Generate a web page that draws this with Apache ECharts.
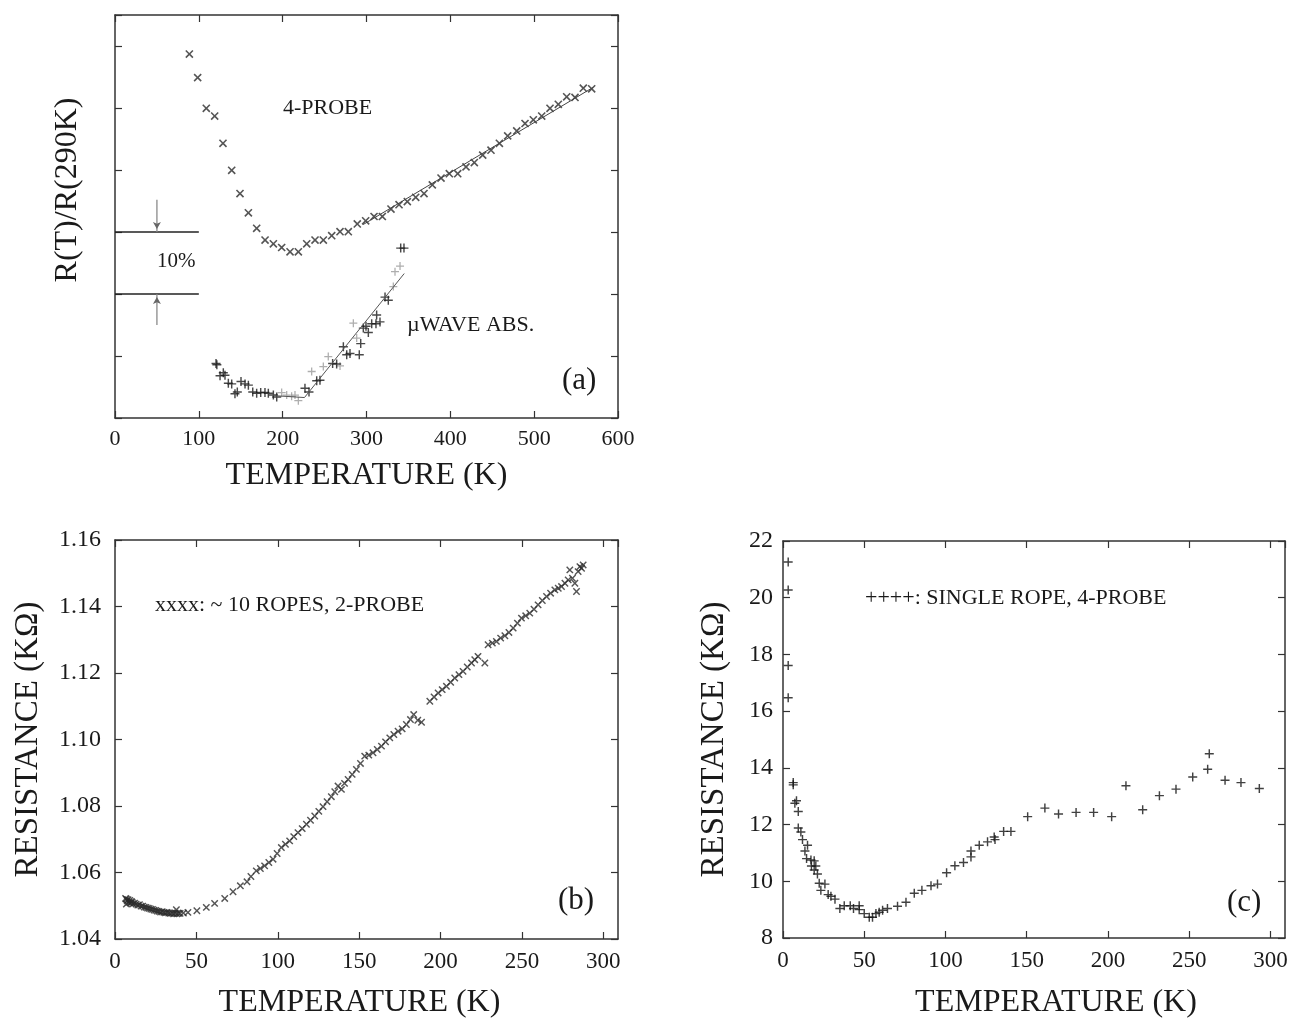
<!DOCTYPE html>
<html><head><meta charset="utf-8">
<script src="https://cdn.jsdelivr.net/npm/echarts@6/dist/echarts.min.js"></script>
<style>html,body{margin:0;padding:0;background:#fff}#c{width:1294px;height:1020px}</style>
</head><body><div id="c"></div>
<script>
// ---------- DATA ----------
// Panel (a): 4-probe, R(T)/R(290K) in arbitrary % units (10 units = 10%)
const aProbe4 = [[88.7,58.7],[98.6,54.9],[108.9,49.95],[118.9,48.7],[128.8,44.3],[139.2,39.95],[149.1,36.2],[159.1,33.1],[169.0,30.6],[179,28.7],[188.9,28.1],[198.8,27.5],[208.8,26.8],[218.7,26.8],[228.7,28.1],[238.6,28.7],[248.5,28.7],[258.5,29.4],[268.4,30.05],[278.3,30.05],[289,31.3],[299,31.8],[309,32.5],[318.9,32.5],[329.2,33.7],[338.8,34.4],[348.7,34.9],[358.7,35.6],[368.6,36.2],[378.5,37.6],[388.9,38.7],[398.8,39.4],[408.8,39.4],[418.7,40.5],[428.6,41.2],[438.6,42.4],[448.5,43.2],[458.5,44.3],[468.4,45.5],[479.2,46.3],[489.1,47.5],[499,48.1],[509,48.7],[518.9,49.95],[528.8,50.6],[538.8,51.8],[548.7,51.7],[558.6,53.2],[568.6,53.1]];
const aFitTop = [[296,31.2],[570,53.3]];
// Panel (a): microwave absorption
const aWaveDark = [[120.5,8.8],[121.5,8.6],[125.3,6.8],[129.2,7.3],[131.2,6.9],[135.2,5.6],[139.2,5.5],[143.1,3.9],[145.9,4.2],[150.3,5.9],[155.1,5.5],[159.1,5.3],[164.3,4.2],[169,4.0],[173.8,4.1],[178.9,4.1],[182.9,4.0],[188.9,3.7],[192.9,3.4],[226.6,4.8],[231.4,4.2],[240.6,6.0],[244.5,6.1],[259.6,8.8],[264.4,8.7],[272.4,11.5],[276.4,10.2],[280.3,10.4],[291.4,10.2],[293.1,12.0],[296.2,14.5],[299.4,14.8],[302.2,13.8],[306.2,15.2],[311.3,15.2],[316.1,15.5],[312.1,16.6],[322.1,19.5],[326,19.0],[340.8,27.4],[344.7,27.4]];
const aWaveGray = [[198.8,4.1],[204.8,3.7],[210.7,3.5],[214.7,3.7],[218.7,2.8],[234.6,7.5],[248.5,8.3],[254.4,9.9],[268.4,8.4],[284.3,15.3],[288.3,12.9],[332,21.2],[334,23.6],[340,24.5]];
const aFitBottom = [[190,3.6],[226,3.3],[345,23.3]];
const bracketX = [0, 100];
const bracketY = [30, 20];
const arrowX = 50;
const arrowFrom = [35.2, 15.0];
// Panel (b): ~10 ropes, 2-probe, resistance (kOhm)
const bRopes = [[6.5,1.0522],[7,1.0505],[7,1.052],[7.5,1.0515],[8,1.0518],[8.5,1.051],[9,1.0516],[9.5,1.0508],[10,1.0513],[10.5,1.0511],[11,1.0506],[12,1.0508],[13,1.0505],[14,1.0502],[15,1.0503],[16,1.0499],[17,1.0499],[18,1.0496],[19,1.0495],[20,1.0493],[21,1.0492],[22,1.049],[23,1.0489],[24,1.0487],[25,1.0486],[26,1.0484],[27,1.0483],[28,1.0481],[29,1.0482],[30,1.048],[31,1.0479],[32,1.048],[33,1.0478],[34,1.0477],[35,1.0478],[36,1.0476],[37,1.0478],[37.7,1.0488],[38,1.0476],[39,1.0477],[40,1.0477],[42,1.0478],[44.8,1.048],[50.3,1.0485],[56.1,1.0495],[61.2,1.0507],[67.4,1.0522],[72.5,1.0542],[77,1.056],[81.1,1.0572],[83.5,1.0588],[86.8,1.0605],[89.3,1.0612],[91.9,1.062],[94.5,1.063],[97.1,1.064],[99.6,1.0657],[102.2,1.0675],[104.7,1.0685],[107.3,1.0695],[109.8,1.0708],[112.4,1.072],[115,1.0732],[117.6,1.0745],[120.1,1.0757],[122.7,1.077],[125.2,1.0784],[127.8,1.0798],[130.3,1.0813],[132.9,1.0828],[135,1.0843],[137,1.086],[139.1,1.085],[141,1.0868],[143.2,1.088],[145.7,1.0895],[148.3,1.091],[150.8,1.0928],[153.4,1.095],[155.9,1.0953],[158.5,1.096],[161.1,1.097],[163.7,1.098],[166.2,1.0993],[168.8,1.1005],[171.3,1.1015],[173.9,1.1025],[176.4,1.1032],[179,1.1045],[181.5,1.106],[183.5,1.1075],[186,1.1058],[188.3,1.1052],[193.4,1.1115],[196,1.1128],[198.5,1.114],[201,1.115],[203.6,1.116],[206.2,1.1172],[208.7,1.1185],[211.3,1.1195],[213.8,1.1205],[216.4,1.1218],[219,1.123],[221,1.124],[223,1.125],[227.2,1.123],[229.2,1.1285],[231.8,1.129],[234.3,1.1295],[236.9,1.1305],[239.5,1.1312],[242,1.1322],[244.6,1.1335],[247.2,1.135],[249.7,1.1365],[252.3,1.1372],[254.8,1.138],[257.4,1.1392],[259.9,1.1405],[262.5,1.1418],[265.1,1.143],[267.6,1.144],[270.2,1.145],[272.3,1.1455],[274.3,1.146],[276.4,1.147],[278.4,1.148],[279.4,1.151],[281,1.1485],[282.5,1.147],[283.5,1.1445],[284.5,1.1505],[285.6,1.152],[286.6,1.1515],[287.6,1.1525]];
// Panel (c): single rope, 4-probe, resistance (kOhm)
const cRope = [[3.2,21.26],[3.2,20.27],[3.2,17.61],[3.2,16.47],[6.3,13.48],[6.3,13.4],[8.3,12.84],[7.3,12.75],[9.4,12.46],[9.4,11.88],[11,11.74],[12,11.47],[15.1,11.27],[13.5,11.07],[14.5,10.8],[17.2,10.75],[19.2,10.72],[17.5,10.54],[20.2,10.54],[19.2,10.4],[21.2,10.26],[22.3,9.93],[25.8,9.9],[23.3,9.68],[27.8,9.53],[29.5,9.47],[32,9.37],[35,9.04],[37.7,9.14],[41.4,9.14],[43.4,9.04],[46.9,9.14],[46.9,9.0],[50,8.86],[53.1,8.73],[55.1,8.73],[57.2,8.86],[59.2,8.91],[61.3,8.98],[64.3,9.04],[70.5,9.12],[75.7,9.26],[80.8,9.58],[85.5,9.68],[91.1,9.84],[95.1,9.9],[100.7,10.3],[105.8,10.55],[111.1,10.66],[115.7,10.86],[115.7,11.07],[120.8,11.27],[125.9,11.39],[130,11.56],[130.5,11.47],[135.8,11.76],[140.3,11.76],[150.6,12.28],[161.2,12.58],[169.6,12.37],[180.4,12.43],[191.2,12.43],[202.3,12.28],[211.1,13.37],[221.4,12.52],[231.7,13.02],[241.9,13.25],[252.2,13.68],[261.4,13.95],[262.4,14.5],[272.1,13.56],[281.9,13.48],[293.2,13.27]];

// ---------- STYLE ----------
const FONT = '"Liberation Serif","Times New Roman",serif';
const INK = '#1a1a1a';
const PLUS = 'path://M4.2,0H5.8V4.2H10V5.8H5.8V10H4.2V5.8H0V4.2H4.2Z';

function xAx(grid, min, max, interval, pos, labelSize, margin, name, nameGap, hideMax, namePad) {
  const main = pos === 'bottom';
  return {
    type: 'value', gridIndex: grid, position: pos, min, max, interval,
    axisLine: { show: true, onZero: false, lineStyle: { color: '#333', width: 1.5 } },
    axisTick: { show: true, inside: true, length: 7, lineStyle: { color: '#333', width: 1.2 } },
    splitLine: { show: false },
    axisLabel: { show: main, fontFamily: FONT, fontSize: labelSize, color: INK, margin, showMaxLabel: hideMax ? false : true },
    name: main ? name : '', nameLocation: 'middle', nameGap,
    nameTextStyle: { fontFamily: FONT, fontSize: 32, color: INK, padding: namePad || 0 }
  };
}
function yAx(grid, min, max, interval, pos, showLabel, labelSize, margin, name, nameGap, fmt) {
  const main = pos === 'left';
  return {
    type: 'value', gridIndex: grid, position: pos, min, max, interval,
    axisLine: { show: true, onZero: false, lineStyle: { color: '#333', width: 1.5 } },
    axisTick: { show: true, inside: true, length: 7, lineStyle: { color: '#333', width: 1.2 } },
    splitLine: { show: false },
    axisLabel: { show: main && showLabel, fontFamily: FONT, fontSize: labelSize, color: INK, margin, formatter: fmt, showMaxLabel: true },
    name: main ? (name || '') : '', nameLocation: 'middle', nameGap, nameRotate: 90,
    nameTextStyle: { fontFamily: FONT, fontSize: 33, color: INK }
  };
}

const option = {
  animation: false,
  backgroundColor: '#fff',
  grid: [
    { left: 115, top: 15, width: 503, height: 403 },
    { left: 115, top: 540, width: 503, height: 400 },
    { left: 783, top: 541, width: 502, height: 401 }
  ],
  xAxis: [
    xAx(0, 0, 600, 100, 'bottom', 22, 10, 'TEMPERATURE (K)', 42, false),
    xAx(0, 0, 600, 100, 'top'),
    xAx(1, 0, 309, 50, 'bottom', 23, 11, 'TEMPERATURE (K)', 48, true, [0, 14, 0, 0]),
    xAx(1, 0, 309, 50, 'top'),
    xAx(2, 0, 309, 50, 'bottom', 23, 11, 'TEMPERATURE (K)', 49, true, [0, 0, 0, 44]),
    xAx(2, 0, 309, 50, 'top')
  ],
  yAxis: [
    yAx(0, 0, 65, 10, 'left', false, 22, 10, '', 34),
    yAx(0, 0, 65, 10, 'right', false),
    yAx(1, 1.04, 1.16, 0.02, 'left', true, 24, 14, 'RESISTANCE (KΩ)', 70, v => v.toFixed(2)),
    yAx(1, 1.04, 1.16, 0.02, 'right', false),
    yAx(2, 8, 22, 2, 'left', true, 24, 10, 'RESISTANCE (KΩ)', 52, v => String(Math.round(v))),
    yAx(2, 8, 22, 2, 'right', false)
  ],
  series: [
    { type: 'scatter', xAxisIndex: 0, yAxisIndex: 0, data: aProbe4, symbol: PLUS, symbolRotate: 45, symbolSize: 10, itemStyle: { color: '#2a2a2a' } },
    { type: 'line', xAxisIndex: 0, yAxisIndex: 0, data: aFitTop, symbol: 'none', lineStyle: { color: '#444', width: 1 } },
    { type: 'scatter', xAxisIndex: 0, yAxisIndex: 0, data: aWaveGray, symbol: PLUS, symbolSize: 8, itemStyle: { color: '#9a9a9a' } },
    { type: 'scatter', xAxisIndex: 0, yAxisIndex: 0, data: aWaveDark, symbol: PLUS, symbolSize: 9, itemStyle: { color: '#1a1a1a' } },
    { type: 'line', xAxisIndex: 0, yAxisIndex: 0, data: aFitBottom, symbol: 'none', lineStyle: { color: '#555', width: 1 } },
    { type: 'line', xAxisIndex: 0, yAxisIndex: 0, data: [[bracketX[0], bracketY[0]], [bracketX[1], bracketY[0]]], symbol: 'none', lineStyle: { color: '#222', width: 1.3 } },
    { type: 'line', xAxisIndex: 0, yAxisIndex: 0, data: [[bracketX[0], bracketY[1]], [bracketX[1], bracketY[1]]], symbol: 'none', lineStyle: { color: '#222', width: 1.3 } },
    { type: 'line', xAxisIndex: 0, yAxisIndex: 0, lineStyle: { color: '#8a8a8a', width: 1.3 }, itemStyle: { color: '#666' },
      data: [{ value: [arrowX, arrowFrom[0]], symbol: 'none' }, { value: [arrowX, bracketY[0]], symbol: 'arrow', symbolSize: [6, 7], symbolRotate: 180, symbolOffset: [0, -3] }] },
    { type: 'line', xAxisIndex: 0, yAxisIndex: 0, lineStyle: { color: '#8a8a8a', width: 1.3 }, itemStyle: { color: '#666' },
      data: [{ value: [arrowX, arrowFrom[1]], symbol: 'none' }, { value: [arrowX, bracketY[1]], symbol: 'arrow', symbolSize: [6, 7], symbolOffset: [0, 3] }] },
    { type: 'scatter', xAxisIndex: 2, yAxisIndex: 2, data: bRopes, symbol: PLUS, symbolRotate: 45, symbolSize: 9, itemStyle: { color: '#2a2a2a' } },
    { type: 'scatter', xAxisIndex: 4, yAxisIndex: 4, data: cRope, symbol: PLUS, symbolSize: 9, itemStyle: { color: '#111' } }
  ],
  graphic: [
    { type: 'text', x: 68, y: 190, rotation: Math.PI / 2, style: { text: 'R(T)/R(290K)', font: '32px ' + FONT, fill: INK, align: 'center', verticalAlign: 'middle' } },
    { type: 'text', left: 283, top: 97, style: { text: '4-PROBE', font: '22px ' + FONT, fill: INK } },
    { type: 'text', left: 407, top: 314, style: { text: 'µWAVE ABS.', font: '22px ' + FONT, fill: INK } },
    { type: 'text', left: 562, top: 365, style: { text: '(a)', font: '31px ' + FONT, fill: INK } },
    { type: 'text', left: 157, top: 251, style: { text: '10%', font: '21px ' + FONT, fill: INK } },
    { type: 'text', left: 155, top: 594, style: { text: 'xxxx: ~ 10 ROPES, 2-PROBE', font: '22px ' + FONT, fill: INK } },
    { type: 'text', left: 558, top: 885, style: { text: '(b)', font: '31px ' + FONT, fill: INK } },
    { type: 'text', left: 865, top: 587, style: { text: '++++: SINGLE ROPE, 4-PROBE', font: '22px ' + FONT, fill: INK } },
    { type: 'text', left: 1227, top: 887, style: { text: '(c)', font: '31px ' + FONT, fill: INK } }
  ]
};
const chart = echarts.init(document.getElementById('c'), null, { renderer: 'canvas' });
chart.setOption(option);
</script>
</body></html>
